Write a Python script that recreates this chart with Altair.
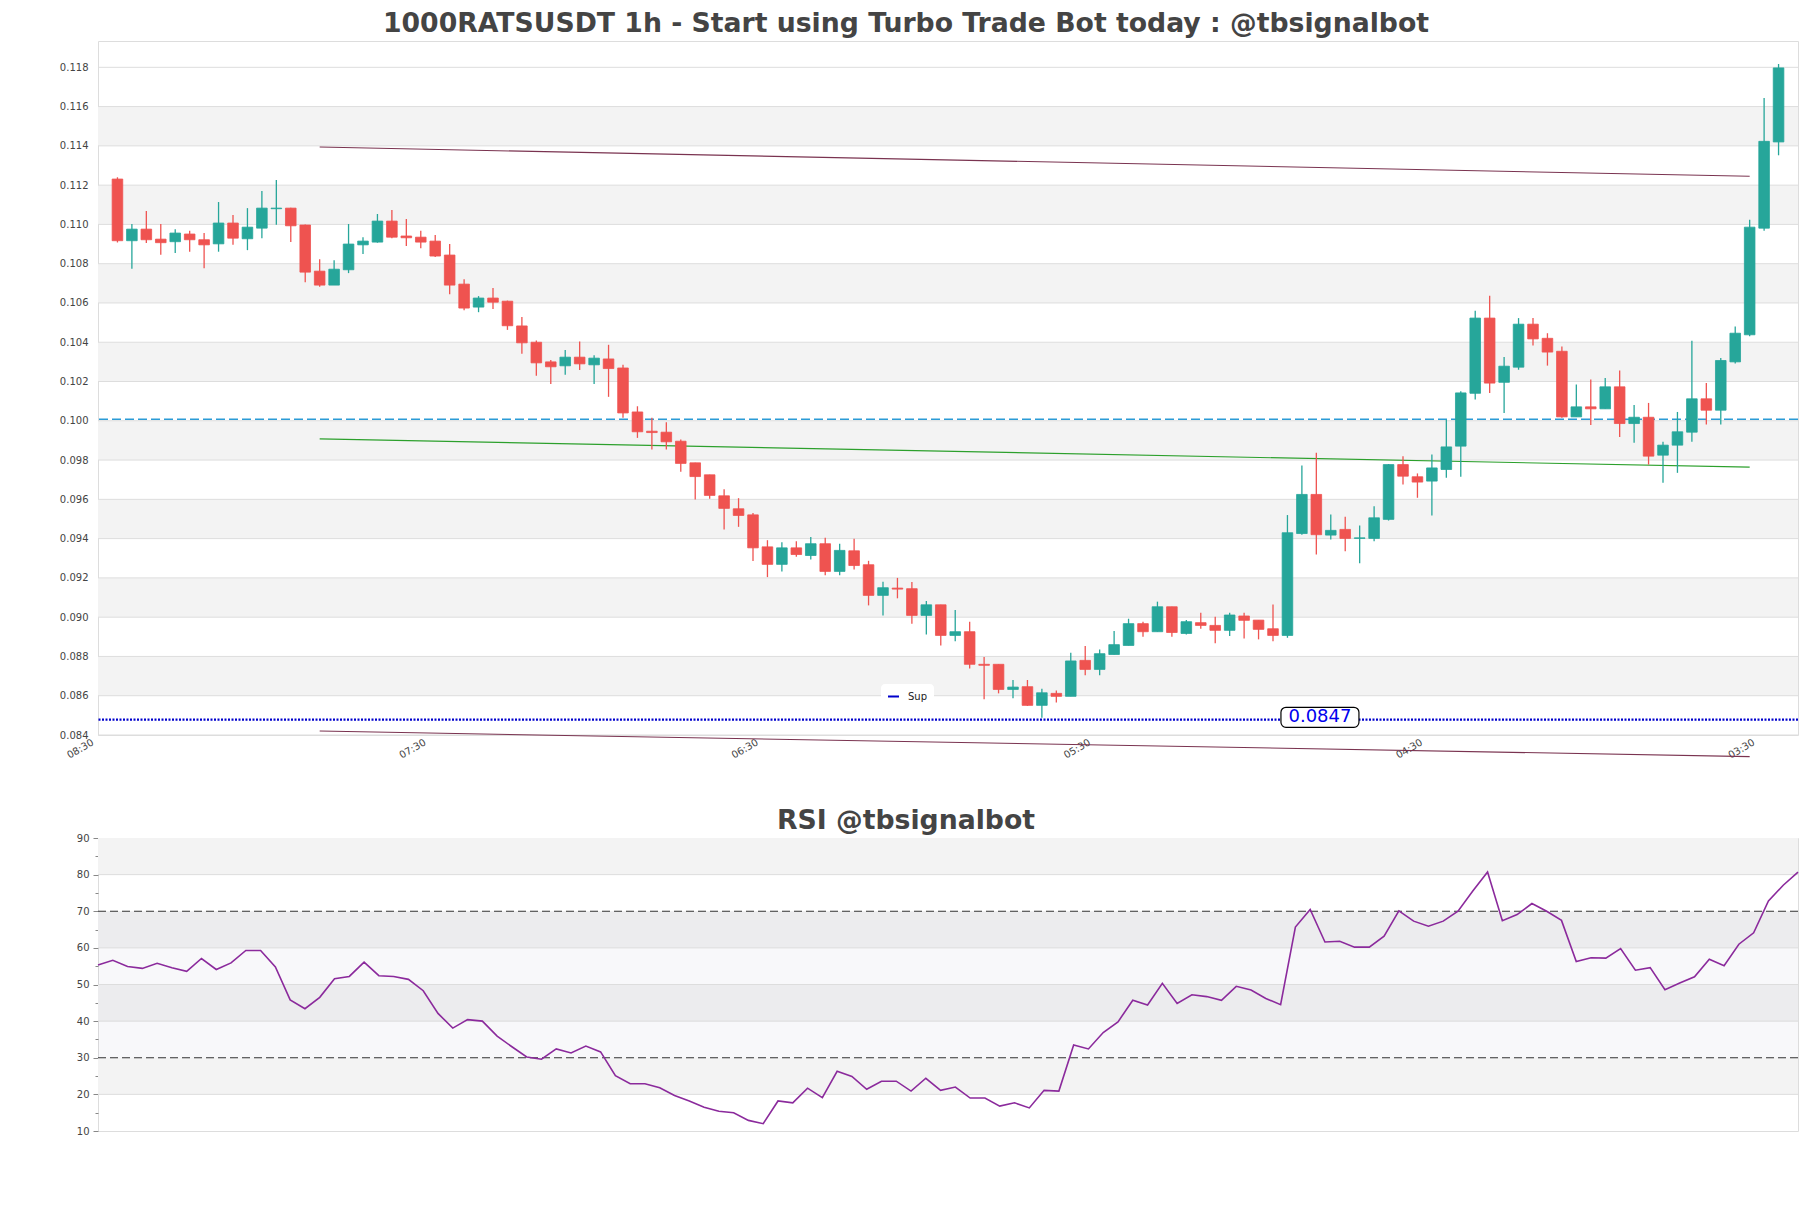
import altair as alt
import pandas as pd

# ---------------- data ----------------
opens = [0.11231, 0.10917, 0.10976, 0.10925, 0.10912, 0.10951, 0.10922, 0.10901, 0.11007, 0.10927,
         0.10981, 0.11080, 0.11083, 0.10997, 0.10762, 0.10691, 0.10769, 0.10896, 0.10910, 0.11017,
         0.10941, 0.10935, 0.10915, 0.10844, 0.10696, 0.10579, 0.10625, 0.10609, 0.10483, 0.10400,
         0.10300, 0.10280, 0.10324, 0.10285, 0.10315, 0.10269, 0.10045, 0.09947, 0.09942, 0.09896,
         0.09786, 0.09725, 0.09618, 0.09552, 0.09521, 0.09358, 0.09269, 0.09353, 0.09314, 0.09374,
         0.09233, 0.09338, 0.09267, 0.09111, 0.09148, 0.09145, 0.09009, 0.09063, 0.08907, 0.08926,
         0.08760, 0.08760, 0.08632, 0.08646, 0.08551, 0.08612, 0.08597, 0.08780, 0.08734, 0.08810,
         0.08856, 0.08967, 0.08926, 0.09053, 0.08917, 0.08972, 0.08958, 0.08933, 0.09006, 0.08985,
         0.08941, 0.08907, 0.09426, 0.09625, 0.09418, 0.09447, 0.09401, 0.09401, 0.09498, 0.09777,
         0.09715, 0.09693, 0.09752, 0.09871, 0.10140, 0.10523, 0.10196, 0.10273, 0.10492, 0.10420,
         0.10354, 0.10020, 0.10071, 0.10061, 0.10173, 0.09986, 0.10018, 0.09825, 0.09876, 0.09942,
         0.10112, 0.10054, 0.10300, 0.10438, 0.10981, 0.11420]
highs = [0.11240, 0.11002, 0.11068, 0.11002, 0.10976, 0.10968, 0.10956, 0.11114, 0.11048, 0.11083,
         0.11170, 0.11226, 0.11085, 0.11000, 0.10823, 0.10818, 0.11002, 0.10935, 0.11053, 0.11073,
         0.11027, 0.10968, 0.10946, 0.10900, 0.10721, 0.10635, 0.10676, 0.10612, 0.10528, 0.10409,
         0.10309, 0.10360, 0.10404, 0.10334, 0.10387, 0.10286, 0.10074, 0.10015, 0.09993, 0.09905,
         0.09786, 0.09725, 0.09652, 0.09606, 0.09530, 0.09392, 0.09382, 0.09387, 0.09408, 0.09404,
         0.09374, 0.09399, 0.09287, 0.09180, 0.09200, 0.09179, 0.09082, 0.09063, 0.09036, 0.08977,
         0.08797, 0.08760, 0.08680, 0.08680, 0.08636, 0.08627, 0.08819, 0.08853, 0.08836, 0.08929,
         0.08992, 0.08977, 0.09079, 0.09053, 0.08985, 0.09022, 0.09002, 0.09023, 0.09023, 0.08985,
         0.09065, 0.09520, 0.09772, 0.09837, 0.09523, 0.09511, 0.09467, 0.09565, 0.09780, 0.09820,
         0.09732, 0.09828, 0.10006, 0.10150, 0.10560, 0.10637, 0.10325, 0.10523, 0.10523, 0.10446,
         0.10378, 0.10185, 0.10210, 0.10218, 0.10256, 0.10080, 0.10091, 0.09893, 0.10045, 0.10408,
         0.10193, 0.10320, 0.10480, 0.11024, 0.11644, 0.11817]
lows = [0.10908, 0.10774, 0.10905, 0.10845, 0.10854, 0.10861, 0.10777, 0.10861, 0.10896, 0.10869,
        0.10930, 0.10998, 0.10910, 0.10706, 0.10682, 0.10691, 0.10752, 0.10849, 0.10907, 0.10930,
        0.10890, 0.10879, 0.10834, 0.10645, 0.10563, 0.10553, 0.10569, 0.10463, 0.10341, 0.10229,
        0.10188, 0.10234, 0.10259, 0.10188, 0.10122, 0.10015, 0.09913, 0.09854, 0.09854, 0.09740,
        0.09599, 0.09603, 0.09447, 0.09460, 0.09286, 0.09204, 0.09233, 0.09308, 0.09294, 0.09213,
        0.09213, 0.09243, 0.09060, 0.09009, 0.09096, 0.08967, 0.08912, 0.08856, 0.08878, 0.08739,
        0.08582, 0.08612, 0.08587, 0.08548, 0.08488, 0.08565, 0.08597, 0.08704, 0.08704, 0.08810,
        0.08856, 0.08900, 0.08926, 0.08900, 0.08912, 0.08941, 0.08867, 0.08904, 0.08892, 0.08887,
        0.08878, 0.08895, 0.09420, 0.09319, 0.09396, 0.09336, 0.09274, 0.09387, 0.09492, 0.09676,
        0.09608, 0.09518, 0.09710, 0.09715, 0.10108, 0.10142, 0.10040, 0.10260, 0.10383, 0.10281,
        0.10015, 0.10020, 0.09978, 0.10061, 0.09918, 0.09888, 0.09777, 0.09684, 0.09735, 0.09893,
        0.09981, 0.09981, 0.10292, 0.10430, 0.10968, 0.11352]
closes = [0.10917, 0.10976, 0.10922, 0.10907, 0.10956, 0.10922, 0.10896, 0.11007, 0.10930, 0.10986,
          0.11083, 0.11083, 0.10993, 0.10757, 0.10691, 0.10772, 0.10900, 0.10915, 0.11017, 0.10935,
          0.10932, 0.10910, 0.10839, 0.10691, 0.10574, 0.10625, 0.10604, 0.10484, 0.10397, 0.10295,
          0.10275, 0.10324, 0.10290, 0.10319, 0.10266, 0.10040, 0.09944, 0.09940, 0.09893, 0.09783,
          0.09716, 0.09620, 0.09554, 0.09518, 0.09353, 0.09269, 0.09353, 0.09319, 0.09374, 0.09233,
          0.09340, 0.09263, 0.09111, 0.09150, 0.09143, 0.09009, 0.09063, 0.08907, 0.08926, 0.08760,
          0.08755, 0.08632, 0.08644, 0.08551, 0.08615, 0.08597, 0.08777, 0.08734, 0.08814, 0.08860,
          0.08967, 0.08926, 0.09053, 0.08922, 0.08977, 0.08958, 0.08933, 0.09011, 0.08984, 0.08938,
          0.08907, 0.09430, 0.09625, 0.09420, 0.09442, 0.09401, 0.09404, 0.09506, 0.09777, 0.09718,
          0.09688, 0.09760, 0.09867, 0.10142, 0.10523, 0.10192, 0.10278, 0.10492, 0.10417, 0.10350,
          0.10020, 0.10071, 0.10061, 0.10173, 0.09986, 0.10018, 0.09820, 0.09876, 0.09944, 0.10112,
          0.10054, 0.10307, 0.10446, 0.10986, 0.11423, 0.11797]
rsi_values = [55.3, 56.6, 54.9, 54.4, 55.8, 54.6, 53.6, 57.1, 54.1, 55.9,
              59.3, 59.3, 54.8, 45.8, 43.4, 46.5, 51.6, 52.2, 56.1, 52.4,
              52.2, 51.4, 48.3, 42.1, 38.1, 40.4, 40.0, 35.9, 33.0, 30.2,
              29.6, 32.4, 31.3, 33.2, 31.6, 25.1, 22.9, 22.9, 21.8, 19.7,
              18.2, 16.5, 15.4, 15.0, 12.9, 12.0, 18.2, 17.7, 21.7, 19.1,
              26.3, 24.9, 21.4, 23.6, 23.6, 20.9, 24.4, 21.1, 22.0, 19.0,
              19.0, 16.8, 17.7, 16.3, 21.1, 20.9, 33.5, 32.4, 36.9, 39.8,
              45.7, 44.4, 50.3, 44.8, 47.2, 46.7, 45.7, 49.5, 48.5, 46.2,
              44.5, 65.7, 70.5, 61.6, 61.8, 60.2, 60.2, 63.2, 70.1, 67.3,
              65.9, 67.3, 70.0, 75.5, 80.7, 67.4, 69.1, 72.1, 70.0, 67.5,
              56.3, 57.3, 57.2, 59.8, 53.9, 54.6, 48.6, 50.4, 52.1, 56.9,
              55.1, 61.0, 64.1, 72.8, 77.1, 80.7]

x_tick_pos = [-1, 22, 45, 68, 91, 114]
x_tick_labels = ["08:30", "07:30", "06:30", "05:30", "04:30", "03:30"]
price_ticks = [0.084, 0.086, 0.088, 0.090, 0.092, 0.094, 0.096, 0.098, 0.100,
               0.102, 0.104, 0.106, 0.108, 0.110, 0.112, 0.114, 0.116, 0.118]
band_lo = [0.086, 0.090, 0.094, 0.098, 0.102, 0.106, 0.110, 0.114]
band_hi = [0.088, 0.092, 0.096, 0.100, 0.104, 0.108, 0.112, 0.116]

trend_x0 = [14, 14, 14]
trend_x1 = [113, 113, 113]
trend_y0 = [0.11394, 0.09908, 0.08420]
trend_y1 = [0.11245, 0.09764, 0.08290]
trend_colors = ["#7a3350", "#2ca02c", "#7a3350"]

resistance_level = [0.10008]
support_level = [0.08478]
support_name = ["Sup"]
support_text = ["0.0847"]
support_label_x = [83.25]
support_label_y = [0.0849]
support_label_w = [5.4]
support_label_h = [0.00102]

rsi_ticks = [10, 15, 20, 25, 30, 35, 40, 45, 50, 55, 60, 65, 70, 75, 80, 85, 90]
rsi_band_lo = [20, 40, 60, 80]
rsi_band_hi = [30, 50, 70, 90]
rsi_grid = [20, 40, 50, 60, 80]
rsi_levels = [30, 70]

TITLE = "1000RATSUSDT 1h - Start using Turbo Trade Bot today : @tbsignalbot"
RSI_TITLE = "RSI @tbsignalbot"
UP, DOWN = "#26a69a", "#ef5350"
FONT = "DejaVu Sans"
W, H_MAIN, H_RSI = 1700, 694, 293

# ---------------- frames ----------------
n = len(opens)
cdf = pd.DataFrame({"i": list(range(n)), "open": opens, "high": highs,
                    "low": lows, "close": closes})
cdf["lo"] = cdf[["open", "close"]].min(axis=1)
cdf["hi"] = cdf[["open", "close"]].max(axis=1)
cdf["col"] = [UP if c >= o else DOWN for o, c in zip(opens, closes)]

bands = pd.DataFrame({"lo": band_lo, "hi": band_hi})
grid = pd.DataFrame({"v": price_ticks})
trends = pd.DataFrame({"x0": trend_x0, "x1": trend_x1, "y0": trend_y0,
                       "y1": trend_y1, "c": trend_colors})
res_df = pd.DataFrame({"v": resistance_level})
sup_df = pd.DataFrame({"v": support_level, "name": support_name})
lab_df = pd.DataFrame({"x": support_label_x, "y": support_label_y, "txt": support_text})
lab_df["x0"] = lab_df["x"] - pd.Series(support_label_w) / 2
lab_df["x1"] = lab_df["x"] + pd.Series(support_label_w) / 2
lab_df["y0"] = lab_df["y"] - pd.Series(support_label_h) / 2
lab_df["y1"] = lab_df["y"] + pd.Series(support_label_h) / 2

# ---------------- scales / axes ----------------
xs = alt.Scale(domain=[-1, 116], nice=False, zero=False)
ys = alt.Scale(domain=[0.084, 0.11934], nice=False, zero=False)

label_expr = ""
for p, l in zip(x_tick_pos, x_tick_labels):
    label_expr += f"datum.value == {p} ? '{l}' : "
label_expr += "''"

x_axis = alt.Axis(values=x_tick_pos, labelExpr=label_expr, labelAngle=-30,
                  labelAlign="right", labelBaseline="top", ticks=False,
                  grid=False, domain=False, labelPadding=2, labelOffset=-13,
                  title=None, labelFontSize=10)
y_axis = alt.Axis(values=price_ticks, format=".3f", grid=False, ticks=False,
                  domain=False, labelPadding=10, minExtent=89, maxExtent=89,
                  title=None, labelFontSize=10)

X = lambda f: alt.X(f, scale=xs, axis=x_axis)
Y = lambda f: alt.Y(f, scale=ys, axis=y_axis)

band_layer = alt.Chart(bands).mark_rect(color="#f3f3f3").encode(
    x=alt.value(0), x2=alt.value(W), y=Y("lo:Q"), y2="hi:Q")
grid_layer = alt.Chart(grid).mark_rule(color="#dddddd", strokeWidth=1).encode(y=Y("v:Q"))
res_layer = alt.Chart(res_df).mark_rule(color="#2b9bd6", strokeWidth=1.4,
                                        strokeDash=[9, 4]).encode(y=Y("v:Q"))
trend_layer = alt.Chart(trends).mark_rule(strokeWidth=1.1).encode(
    x=X("x0:Q"), x2="x1:Q", y=Y("y0:Q"), y2="y1:Q",
    stroke=alt.Stroke("c:N", scale=None))
wick_layer = alt.Chart(cdf).mark_rule(strokeWidth=1.3).encode(
    x=X("i:Q"), y=Y("low:Q"), y2="high:Q", stroke=alt.Stroke("col:N", scale=None))
body_layer = alt.Chart(cdf).mark_bar(size=10.6, strokeWidth=0.8).encode(
    x=X("i:Q"), y=Y("lo:Q"), y2="hi:Q",
    fill=alt.Fill("col:N", scale=None), stroke=alt.Stroke("col:N", scale=None))
sup_layer = alt.Chart(sup_df).mark_rule(strokeWidth=2.2, strokeDash=[2, 1.5]).encode(
    y=Y("v:Q"),
    color=alt.Color("name:N", scale=alt.Scale(domain=support_name, range=["#0000cc"]),
                    legend=alt.Legend(title=None, orient="none", legendX=783, legendY=643,
                                      symbolType="stroke", symbolStrokeWidth=2,
                                      symbolSize=121, symbolDash=[1, 0],
                                      labelFontSize=10, labelFont=FONT, labelOffset=8,
                                      labelColor="#222222", fillColor="white",
                                      cornerRadius=4, padding=6)))
box_layer = alt.Chart(lab_df).mark_rect(fill="white", stroke="black", strokeWidth=1.2,
                                        cornerRadius=5).encode(
    x=X("x0:Q"), x2="x1:Q", y=Y("y0:Q"), y2="y1:Q")
txt_layer = alt.Chart(lab_df).mark_text(font=FONT, fontSize=18, color="#0000ee",
                                        baseline="middle").encode(
    x=X("x:Q"), y=Y("y:Q"), text="txt:N")

main = alt.layer(band_layer, grid_layer, res_layer, trend_layer, sup_layer,
                 wick_layer, body_layer, box_layer, txt_layer).properties(
    width=W, height=H_MAIN,
    title=alt.TitleParams(TITLE, fontSize=26.7, fontWeight="bold", font=FONT,
                          color="#444444", offset=3.5, anchor="middle", dx=-42))

# ---------------- RSI panel ----------------
rdf = pd.DataFrame({"i": list(range(len(rsi_values))), "rsi": rsi_values})
rxs = alt.Scale(domain=[0, len(rsi_values) - 1], nice=False, zero=False)
rys = alt.Scale(domain=[10, 90], nice=False, zero=False)
r_axis = alt.Axis(values=rsi_ticks, labelExpr="datum.value % 10 == 0 ? datum.label : ''",
                  grid=False, domain=False, ticks=True, tickColor="#888888",
                  tickSize={"condition": {"test": "datum.value % 10 == 0", "value": 5}, "value": 3},
                  labelPadding=4, minExtent=89, maxExtent=89, title=None,
                  labelFontSize=10)
RY = lambda f: alt.Y(f, scale=rys, axis=r_axis)

r_bands = alt.Chart(pd.DataFrame({"lo": rsi_band_lo, "hi": rsi_band_hi})).mark_rect(
    color="#f3f3f3").encode(x=alt.value(0), x2=alt.value(W), y=RY("lo:Q"), y2="hi:Q")
r_hatch = alt.Chart(pd.DataFrame({"lo": [rsi_levels[0]], "hi": [rsi_levels[1]]})).mark_rect(
    color="#9080b0", opacity=0.06).encode(x=alt.value(0), x2=alt.value(W),
                                          y=RY("lo:Q"), y2="hi:Q")
r_grid = alt.Chart(pd.DataFrame({"v": rsi_grid})).mark_rule(color="#dddddd").encode(y=RY("v:Q"))
r_lines = alt.Chart(pd.DataFrame({"v": rsi_levels})).mark_rule(
    color="#333333", strokeDash=[8, 4], strokeWidth=1.2).encode(y=RY("v:Q"))
r_line = alt.Chart(rdf).mark_line(color="#8b2a9c", strokeWidth=1.6).encode(
    x=alt.X("i:Q", scale=rxs, axis=None), y=RY("rsi:Q"))

rsi_chart = alt.layer(r_bands, r_hatch, r_grid, r_lines, r_line).properties(
    width=W, height=H_RSI,
    title=alt.TitleParams(RSI_TITLE, fontSize=26.7, fontWeight="bold", font=FONT,
                          color="#444444", offset=-1.4, anchor="middle", dx=-42))

chart = alt.vconcat(main, rsi_chart, spacing=46).resolve_scale(
    color="independent").resolve_legend(color="independent").properties(
    padding={"top": 2, "left": 0, "right": 0, "bottom": 0},
    background="white").configure_view(
    stroke="#dddddd", strokeWidth=1).configure_axis(
    labelFont=FONT, labelColor="#444444", labelFontSize=10)

chart.save("out.html", embed_options={"renderer": "svg", "actions": False})
